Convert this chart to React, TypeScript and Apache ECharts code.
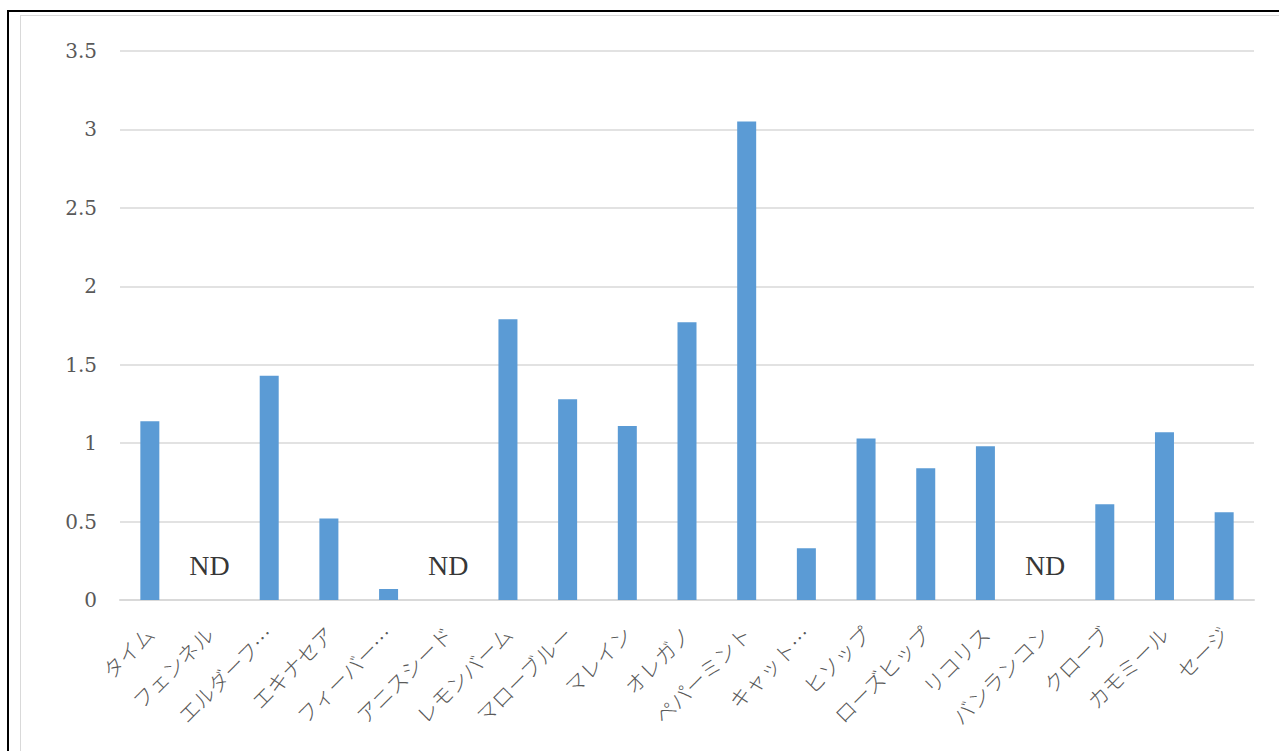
import React, { useEffect, useRef } from "react";
import * as echarts from "echarts";

const categories = [
  "タイム", "フェンネル", "エルダーフ…", "エキナセア", "フィーバー…", "アニスシード",
  "レモンバーム", "マローブルー", "マレイン", "オレガノ", "ペパーミント", "キャット…",
  "ヒソップ", "ローズヒップ", "リコリス", "バンランコン", "クローブ", "カモミール", "セージ",
];
// null = ND (not detected)
const values: (number | null)[] = [
  1.14, null, 1.43, 0.52, 0.07, null,
  1.79, 1.28, 1.11, 1.77, 3.05, 0.33,
  1.03, 0.84, 0.98, null, 0.61, 1.07, 0.56,
];
const ndText = "ND";
const yMin = 0;
const yMax = 3.5;
const yInterval = 0.5;

export default function App() {
  const ref = useRef<HTMLDivElement>(null);
  useEffect(() => {
    if (!ref.current) return;
    const chart = echarts.init(ref.current, null, { renderer: "svg" });
    const ndPoints = values
      .map((v, i) => (v === null ? [i, 0] : null))
      .filter((p) => p !== null);
    chart.setOption({
      animation: false,
      grid: { left: 120, right: 25, top: 51, bottom: 151 },
      xAxis: {
        type: "category",
        data: categories,
        axisLine: { show: true, lineStyle: { color: "#d9d9d9", width: 2 } },
        axisTick: { show: false },
        axisLabel: {
          interval: 0,
          rotate: 45,
          margin: 30,
          color: "#595959",
          fontSize: 21,
          fontFamily: "Noto Sans CJK JP",
          fontWeight: 300,
        },
      },
      yAxis: {
        type: "value",
        min: yMin,
        max: yMax,
        interval: yInterval,
        axisLine: { show: false },
        axisTick: { show: false },
        splitLine: { lineStyle: { color: "#d9d9d9", width: 1.5 } },
        axisLabel: {
          margin: 23,
          color: "#595959",
          fontSize: 20,
          fontFamily: "DejaVu Serif",
        },
      },
      series: [
        {
          type: "bar",
          data: values,
          barWidth: 19,
          itemStyle: { color: "#5b9bd5" },
        },
        {
          type: "scatter",
          data: ndPoints,
          symbolSize: 1,
          itemStyle: { color: "rgba(0,0,0,0)" },
          label: {
            show: true,
            position: "inside",
            offset: [0, -35],
            formatter: () => ndText,
            color: "#000000",
            fontSize: 28,
            fontFamily: "Liberation Serif",
          },
        },
      ],
    });
    return () => chart.dispose();
  }, []);

  return (
    <div style={{ position: "fixed", left: 0, top: 0, width: 1279, height: 751, overflow: "hidden", background: "#fff" }}>
      <div style={{ position: "absolute", left: 7, top: 10, right: 0, bottom: 0, borderLeft: "2px solid #000", borderTop: "2px solid #000" }} />
      <div style={{ position: "absolute", left: 20, top: 15, right: 0, bottom: 0, borderLeft: "1px solid #d9d9d9", borderTop: "1px solid #d9d9d9" }} />
      <div ref={ref} style={{ position: "absolute", left: 0, top: 0, width: 1279, height: 751 }} />
    </div>
  );
}
